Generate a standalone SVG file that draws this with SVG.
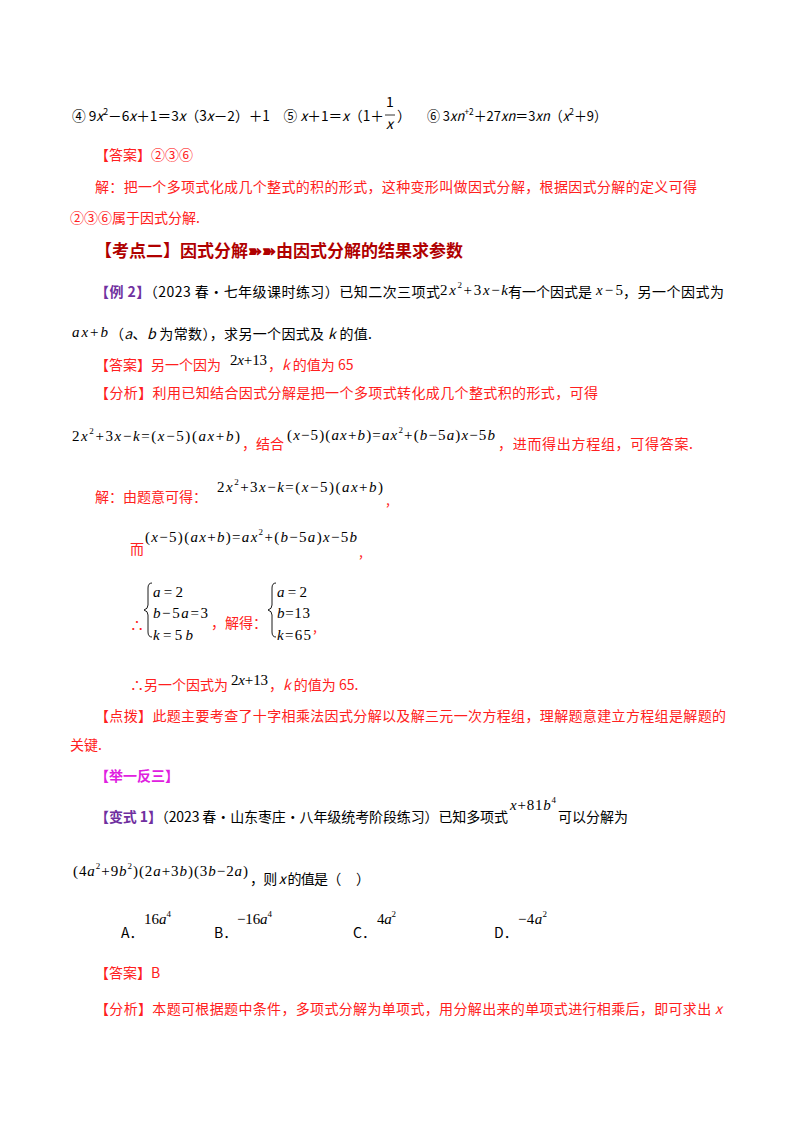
<svg xmlns="http://www.w3.org/2000/svg" width="800" height="1132" viewBox="0 0 800 1132">
<style>
text{font-family:"Noto Sans CJK SC","Liberation Sans",sans-serif;font-size:14px;fill:#000}
.r{fill:#ff2020}
.t{fill:#b00000;font-weight:bold;font-size:17px}
.p{fill:#7030a0;font-weight:bold}
.m{fill:#e020e0;font-weight:bold}
.x{font-family:"Liberation Serif",serif;font-size:15px;fill:#000}
.s{font-size:9px}
</style>
<rect width="800" height="1132" fill="#fff"/>
<text x="72" y="121" textLength="312" lengthAdjust="spacingAndGlyphs">④ 9<tspan font-style="italic">x</tspan><tspan class="s" dy="-6">2</tspan><tspan dy="6">－6</tspan><tspan font-style="italic">x</tspan>＋1＝3<tspan font-style="italic">x</tspan>（3<tspan font-style="italic">x</tspan>－2）＋1　⑤ <tspan font-style="italic">x</tspan>＋1＝<tspan font-style="italic">x</tspan>（1＋</text>
<text x="386" y="107" font-size="13">1</text>
<line x1="385" y1="115" x2="395" y2="115" stroke="#000" stroke-width="0.8"/>
<text x="386" y="129" font-style="italic">x</text>
<text x="397" y="121">）</text>
<text x="427" y="121" textLength="180" lengthAdjust="spacingAndGlyphs">⑥ 3<tspan font-style="italic">xn</tspan><tspan class="s" dy="-6">+2</tspan><tspan dy="6">＋27</tspan><tspan font-style="italic">xn</tspan>＝3<tspan font-style="italic">xn</tspan>（<tspan font-style="italic">x</tspan><tspan class="s" dy="-6">2</tspan><tspan dy="6">＋9）</tspan></text>
<text class="r" x="95" y="160">【答案】②③⑥</text>
<text class="r" x="95" y="192" textLength="602">解：把一个多项式化成几个整式的积的形式，这种变形叫做因式分解，根据因式分解的定义可得</text>
<text class="r" x="70" y="223">②③⑥属于因式分解.</text>
<text class="t" x="95" y="257">【考点二】因式分解➽➽由因式分解的结果求参数</text>

<text x="95" y="297" textLength="345"><tspan class="p">【例 2】</tspan>（2023 春·七年级课时练习）已知二次三项式</text>
<text class="x" x="440" y="295" textLength="68">2<tspan font-style="italic">x</tspan><tspan class="s" dy="-7">2</tspan><tspan dy="7">+3</tspan><tspan font-style="italic">x</tspan>−<tspan font-style="italic">k</tspan></text>
<text x="508" y="297">有一个因式是</text>
<text class="x" x="596" y="295" textLength="27"><tspan font-style="italic">x</tspan>−5</text>
<text x="623" y="297" textLength="101">，另一个因式为</text>
<text class="x" x="72" y="337" textLength="36"><tspan font-style="italic">ax</tspan>+<tspan font-style="italic">b</tspan></text>
<text x="110" y="339" textLength="262">（<tspan font-style="italic">a</tspan>、<tspan font-style="italic">b</tspan> 为常数），求另一个因式及 <tspan font-style="italic">k</tspan> 的值.</text>

<text class="r" x="95" y="370">【答案】另一个因为</text>
<text class="x" x="230" y="365" textLength="37">2<tspan font-style="italic">x</tspan>+13</text>
<text class="r" x="268" y="370">，<tspan font-style="italic">k</tspan> 的值为 65</text>
<text class="r" x="95" y="398" textLength="503">【分析】利用已知结合因式分解是把一个多项式转化成几个整式积的形式，可得</text>

<text class="x" x="72" y="441" textLength="168">2<tspan font-style="italic">x</tspan><tspan class="s" dy="-7">2</tspan><tspan dy="7">+3</tspan><tspan font-style="italic">x</tspan>−<tspan font-style="italic">k</tspan>=(<tspan font-style="italic">x</tspan>−5)(<tspan font-style="italic">ax</tspan>+<tspan font-style="italic">b</tspan>)</text>
<text class="r" x="242" y="449">，结合</text>
<text class="x" x="287" y="440" textLength="208">(<tspan font-style="italic">x</tspan>−5)(<tspan font-style="italic">ax</tspan>+<tspan font-style="italic">b</tspan>)=<tspan font-style="italic">ax</tspan><tspan class="s" dy="-7">2</tspan><tspan dy="7">+(</tspan><tspan font-style="italic">b</tspan>−5<tspan font-style="italic">a</tspan>)<tspan font-style="italic">x</tspan>−5<tspan font-style="italic">b</tspan></text>
<text class="r" x="498" y="449" textLength="195">，进而得出方程组，可得答案.</text>

<text class="r" x="95" y="502">解：由题意可得：</text>
<text class="x" x="217" y="492" textLength="166">2<tspan font-style="italic">x</tspan><tspan class="s" dy="-7">2</tspan><tspan dy="7">+3</tspan><tspan font-style="italic">x</tspan>−<tspan font-style="italic">k</tspan>=(<tspan font-style="italic">x</tspan>−5)(<tspan font-style="italic">ax</tspan>+<tspan font-style="italic">b</tspan>)</text>
<text class="r" x="386" y="505">,</text>
<text class="r" x="130" y="554">而</text>
<text class="x" x="145" y="542" textLength="212">(<tspan font-style="italic">x</tspan>−5)(<tspan font-style="italic">ax</tspan>+<tspan font-style="italic">b</tspan>)=<tspan font-style="italic">ax</tspan><tspan class="s" dy="-7">2</tspan><tspan dy="7">+(</tspan><tspan font-style="italic">b</tspan>−5<tspan font-style="italic">a</tspan>)<tspan font-style="italic">x</tspan>−5<tspan font-style="italic">b</tspan></text>
<text class="r" x="359" y="557">,</text>

<text class="r" x="130" y="630">∴</text>
<path d="M152 583 q-4 0 -4 5 v17 q0 4 -4 5 q4 1 4 5 v17 q0 5 4 5" fill="none" stroke="#000" stroke-width="0.9"/>
<text class="x" x="153" y="597" textLength="30"><tspan font-style="italic">a</tspan>=2</text>
<text class="x" x="153" y="618" textLength="55"><tspan font-style="italic">b</tspan>−5<tspan font-style="italic">a</tspan>=3</text>
<text class="x" x="153" y="640" textLength="40"><tspan font-style="italic">k</tspan>=5<tspan font-style="italic">b</tspan></text>
<text class="r" x="211" y="628">，解得：</text>
<path d="M276 583 q-4 0 -4 5 v17 q0 4 -4 5 q4 1 4 5 v17 q0 5 4 5" fill="none" stroke="#000" stroke-width="0.9"/>
<text class="x" x="277" y="597" textLength="30"><tspan font-style="italic">a</tspan>=2</text>
<text class="x" x="277" y="618" textLength="33"><tspan font-style="italic">b</tspan>=13</text>
<text class="x" x="277" y="640" textLength="34"><tspan font-style="italic">k</tspan>=65</text>
<text class="r" x="313" y="632">,</text>

<text class="r" x="130" y="690">∴另一个因式为</text>
<text class="x" x="231" y="685" textLength="37">2<tspan font-style="italic">x</tspan>+13</text>
<text class="r" x="269" y="690">，<tspan font-style="italic">k</tspan> 的值为 65.</text>
<text class="r" x="95" y="721" textLength="631">【点拨】此题主要考查了十字相乘法因式分解以及解三元一次方程组，理解题意建立方程组是解题的</text>
<text class="r" x="70" y="750">关键.</text>
<text class="m" x="95" y="781">【举一反三】</text>
<text x="95" y="822" textLength="413"><tspan class="p">【变式 1】</tspan>（2023 春·山东枣庄·八年级统考阶段练习）已知多项式</text>
<text class="x" x="510" y="810" textLength="46"><tspan font-style="italic">x</tspan>+81<tspan font-style="italic">b</tspan><tspan class="s" dy="-7">4</tspan></text>
<text x="558" y="822" textLength="70">可以分解为</text>
<text class="x" x="73" y="876" textLength="175">(4<tspan font-style="italic">a</tspan><tspan class="s" dy="-7">2</tspan><tspan dy="7">+9</tspan><tspan font-style="italic">b</tspan><tspan class="s" dy="-7">2</tspan><tspan dy="7">)(2</tspan><tspan font-style="italic">a</tspan>+3<tspan font-style="italic">b</tspan>)(3<tspan font-style="italic">b</tspan>−2<tspan font-style="italic">a</tspan>)</text>
<text x="250" y="884" textLength="120">，则 <tspan font-style="italic">x</tspan> 的值是（　 ）</text>
<text x="121" y="938">A．</text>
<text class="x" x="144" y="924" textLength="27">16<tspan font-style="italic">a</tspan><tspan class="s" dy="-7">4</tspan></text>
<text x="214" y="938">B．</text>
<text class="x" x="237" y="924" textLength="35">−16<tspan font-style="italic">a</tspan><tspan class="s" dy="-7">4</tspan></text>
<text x="353" y="938">C．</text>
<text class="x" x="377" y="924" textLength="19">4<tspan font-style="italic">a</tspan><tspan class="s" dy="-7">2</tspan></text>
<text x="494" y="938">D．</text>
<text class="x" x="518" y="924" textLength="29">−4<tspan font-style="italic">a</tspan><tspan class="s" dy="-7">2</tspan></text>
<text class="r" x="95" y="978">【答案】B</text>
<text class="r" x="95" y="1014" textLength="627">【分析】本题可根据题中条件，多项式分解为单项式，用分解出来的单项式进行相乘后，即可求出 <tspan font-style="italic">x</tspan></text>
</svg>
